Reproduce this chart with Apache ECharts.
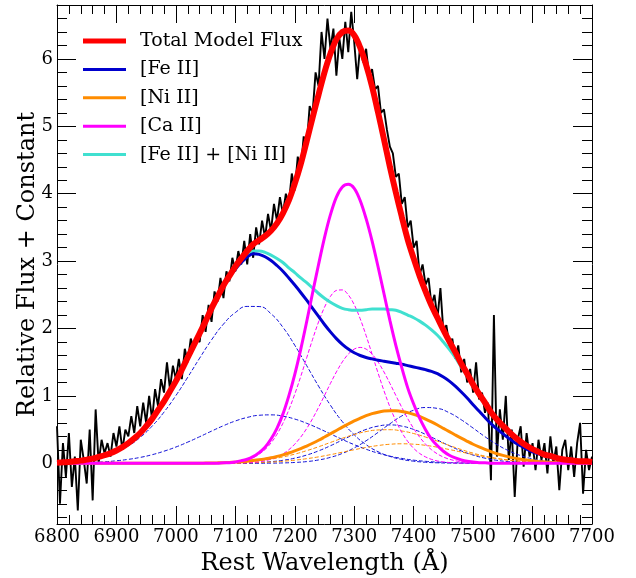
<!DOCTYPE html>
<html>
<head>
<meta charset="utf-8">
<title>Spectral model fit</title>
<script src="https://cdn.jsdelivr.net/npm/echarts/dist/echarts.min.js"></script>
<style>
  html, body { margin: 0; padding: 0; background: #fff; }
  #chart { width: 636px; height: 578px; }
</style>
</head>
<body>
<div id="chart"></div>
<script>
// fine model grid (Å), every 10 Å, 6800 .. 7700
const waveFine = [6800, 6810, 6820, 6830, 6840, 6850, 6860, 6870, 6880, 6890,
  6900, 6910, 6920, 6930, 6940, 6950, 6960, 6970, 6980, 6990,
  7000, 7010, 7020, 7030, 7040, 7050, 7060, 7070, 7080, 7090,
  7100, 7110, 7120, 7130, 7140, 7150, 7160, 7170, 7180, 7190,
  7200, 7210, 7220, 7230, 7240, 7250, 7260, 7270, 7280, 7290,
  7300, 7310, 7320, 7330, 7340, 7350, 7360, 7370, 7380, 7390,
  7400, 7410, 7420, 7430, 7440, 7450, 7460, 7470, 7480, 7490,
  7500, 7510, 7520, 7530, 7540, 7550, 7560, 7570, 7580, 7590,
  7600, 7610, 7620, 7630, 7640, 7650, 7660, 7670, 7680, 7690,
  7700]
// coarse grid (Å), every 20 Å, for the broad dashed components
const waveCoarse = [6800, 6820, 6840, 6860, 6880, 6900, 6920, 6940, 6960, 6980,
  7000, 7020, 7040, 7060, 7080, 7100, 7120, 7140, 7160, 7180,
  7200, 7220, 7240, 7260, 7280, 7300, 7320, 7340, 7360, 7380,
  7400, 7420, 7440, 7460, 7480, 7500, 7520, 7540, 7560, 7580,
  7600, 7620, 7640, 7660, 7680, 7700]

// solid model curves (fine grid)
const fluxTotal = [0.01, 0.015, 0.02, 0.03, 0.04, 0.055, 0.07, 0.095, 0.12, 0.15,
  0.19, 0.24, 0.30, 0.37, 0.45, 0.55, 0.66, 0.79, 0.92, 1.07,
  1.22, 1.39, 1.57, 1.75, 1.93, 2.11, 2.30, 2.47, 2.64, 2.78,
  2.92, 3.04, 3.15, 3.25, 3.31, 3.37, 3.45, 3.56, 3.71, 3.90,
  4.15, 4.44, 4.78, 5.13, 5.47, 5.80, 6.08, 6.29, 6.40, 6.42,
  6.35, 6.17, 5.91, 5.59, 5.21, 4.81, 4.40, 4.02, 3.66, 3.32,
  3.04, 2.78, 2.55, 2.34, 2.16, 1.98, 1.81, 1.65, 1.48, 1.33,
  1.17, 1.03, 0.90, 0.76, 0.65, 0.56, 0.47, 0.39, 0.32, 0.26,
  0.21, 0.17, 0.13, 0.11, 0.08, 0.06, 0.05, 0.04, 0.03, 0.03,
  0.02]
const fluxFe = [0.01, 0.015, 0.02, 0.03, 0.04, 0.055, 0.07, 0.095, 0.12, 0.15,
  0.19, 0.24, 0.30, 0.37, 0.45, 0.55, 0.66, 0.79, 0.92, 1.07,
  1.22, 1.39, 1.57, 1.75, 1.93, 2.11, 2.29, 2.46, 2.62, 2.76,
  2.88, 2.98, 3.06, 3.11, 3.10, 3.065, 3.01, 2.935, 2.85, 2.75,
  2.645, 2.535, 2.42, 2.30, 2.18, 2.06, 1.95, 1.85, 1.765, 1.695,
  1.64, 1.60, 1.57, 1.55, 1.53, 1.515, 1.50, 1.485, 1.47, 1.45,
  1.43, 1.41, 1.39, 1.365, 1.33, 1.28, 1.22, 1.145, 1.06, 0.97,
  0.87, 0.775, 0.68, 0.59, 0.51, 0.44, 0.37, 0.31, 0.26, 0.21,
  0.17, 0.14, 0.11, 0.09, 0.07, 0.055, 0.04, 0.035, 0.03, 0.025,
  0.02]
const fluxNi = [0, 0, 0, 0, 0, 0, 0, 0, 0, 0,
  0, 0, 0, 0, 0, 0, 0, 0, 0, 0,
  0.001, 0.001, 0.001, 0.002, 0.002, 0.004, 0.005, 0.007, 0.010, 0.014,
  0.018, 0.024, 0.032, 0.041, 0.052, 0.066, 0.082, 0.103, 0.126, 0.153,
  0.184, 0.218, 0.257, 0.298, 0.342, 0.390, 0.439, 0.488, 0.537, 0.584,
  0.630, 0.670, 0.707, 0.737, 0.759, 0.775, 0.782, 0.780, 0.770, 0.752,
  0.726, 0.695, 0.657, 0.614, 0.568, 0.519, 0.470, 0.421, 0.373, 0.327,
  0.283, 0.243, 0.206, 0.173, 0.143, 0.118, 0.096, 0.077, 0.061, 0.048,
  0.037, 0.029, 0.022, 0.016, 0.012, 0.009, 0.007, 0.005, 0.003, 0.002,
  0.002]
const fluxCa = [0, 0, 0, 0, 0, 0, 0, 0, 0, 0,
  0, 0, 0, 0, 0, 0, 0, 0, 0, 0,
  0, 0, 0, 0, 0, 0.00, 0.00, 0.00, 0.01, 0.01,
  0.02, 0.04, 0.06, 0.10, 0.16, 0.24, 0.36, 0.52, 0.73, 1.00,
  1.32, 1.69, 2.10, 2.53, 2.95, 3.35, 3.69, 3.95, 4.10, 4.14,
  4.08, 3.90, 3.63, 3.30, 2.92, 2.52, 2.12, 1.75, 1.42, 1.12,
  0.88, 0.67, 0.50, 0.36, 0.26, 0.18, 0.12, 0.08, 0.05, 0.03,
  0.02, 0.01, 0.01, 0.00, 0, 0, 0, 0, 0, 0,
  0, 0, 0, 0, 0, 0, 0, 0, 0, 0,
  0]
const fluxFeNi = [0.01, 0.015, 0.02, 0.03, 0.04, 0.055, 0.07, 0.095, 0.12, 0.15,
  0.19, 0.24, 0.30, 0.37, 0.45, 0.55, 0.66, 0.79, 0.92, 1.07,
  1.22, 1.39, 1.57, 1.75, 1.93, 2.11, 2.30, 2.47, 2.63, 2.77,
  2.90, 3.00, 3.09, 3.15, 3.15, 3.13, 3.09, 3.04, 2.98, 2.90,
  2.83, 2.75, 2.68, 2.60, 2.52, 2.45, 2.39, 2.34, 2.30, 2.28,
  2.27, 2.27, 2.28, 2.29, 2.29, 2.29, 2.28, 2.27, 2.24, 2.20,
  2.16, 2.11, 2.05, 1.98, 1.90, 1.80, 1.69, 1.57, 1.43, 1.30,
  1.15, 1.02, 0.89, 0.76, 0.65, 0.56, 0.47, 0.39, 0.32, 0.26,
  0.21, 0.17, 0.13, 0.11, 0.08, 0.06, 0.05, 0.04, 0.03, 0.03,
  0.02]

// [Ca II] components (fine grid, dashed)
const caComp1 = [0, 0, 0, 0, 0, 0, 0, 0, 0, 0,
  0, 0, 0, 0, 0, 0, 0, 0, 0, 0,
  0, 0, 0, 0, 0, 0.001, 0.002, 0.003, 0.006, 0.010,
  0.018, 0.032, 0.053, 0.086, 0.135, 0.205, 0.302, 0.430, 0.594, 0.793,
  1.027, 1.288, 1.565, 1.841, 2.098, 2.316, 2.477, 2.565, 2.573, 2.500,
  2.354, 2.146, 1.895, 1.621, 1.343, 1.078, 0.838, 0.631, 0.460, 0.325,
  0.222, 0.147, 0.095, 0.059, 0.035, 0.021, 0.012, 0.006, 0.003, 0.002,
  0.001, 0, 0, 0, 0, 0, 0, 0, 0, 0,
  0, 0, 0, 0, 0, 0, 0, 0, 0, 0,
  0]
const caComp2 = [0, 0, 0, 0, 0, 0, 0, 0, 0, 0,
  0, 0, 0, 0, 0, 0, 0, 0, 0, 0,
  0, 0, 0, 0, 0, 0, 0, 0, 0, 0.001,
  0.002, 0.005, 0.008, 0.014, 0.023, 0.038, 0.061, 0.093, 0.139, 0.202,
  0.285, 0.389, 0.516, 0.664, 0.830, 1.007, 1.186, 1.356, 1.505, 1.621,
  1.695, 1.720, 1.695, 1.621, 1.505, 1.356, 1.186, 1.007, 0.830, 0.664,
  0.516, 0.389, 0.285, 0.202, 0.139, 0.093, 0.061, 0.038, 0.023, 0.014,
  0.008, 0.005, 0.002, 0.001, 0, 0, 0, 0, 0, 0,
  0, 0, 0, 0, 0, 0, 0, 0, 0, 0,
  0]

// [Fe II] and [Ni II] components (coarse grid, dashed)
const feComp1 = [0.010, 0.019, 0.035, 0.061, 0.103, 0.166, 0.258, 0.385, 0.552, 0.760,
  1.005, 1.278, 1.561, 1.832, 2.065, 2.237, 2.328, 2.326, 2.219, 2.019,
  1.752, 1.450, 1.145, 0.862, 0.619, 0.424, 0.277, 0.173, 0.103, 0.058,
  0.032, 0.016, 0.008, 0.004, 0.002, 0.001, 0, 0, 0, 0,
  0, 0, 0, 0, 0, 0]
const feComp2 = [0.002, 0.004, 0.008, 0.014, 0.023, 0.038, 0.059, 0.088, 0.128, 0.180,
  0.242, 0.315, 0.395, 0.478, 0.558, 0.628, 0.681, 0.713, 0.719, 0.700,
  0.657, 0.594, 0.519, 0.437, 0.354, 0.277, 0.209, 0.152, 0.107, 0.073,
  0.047, 0.030, 0.018, 0.011, 0.006, 0.003, 0.002, 0.001, 0, 0,
  0, 0, 0, 0, 0, 0]
const feComp3 = [0, 0, 0, 0, 0, 0, 0, 0, 0, 0,
  0, 0, 0, 0, 0, 0, 0, 0.001, 0.003, 0.006,
  0.013, 0.026, 0.050, 0.089, 0.147, 0.230, 0.335, 0.458, 0.587, 0.703,
  0.788, 0.828, 0.815, 0.750, 0.647, 0.523, 0.395, 0.280, 0.186, 0.115,
  0.067, 0.036, 0.019, 0.009, 0.004, 0.002]
const feComp4 = [0, 0, 0, 0, 0, 0, 0, 0, 0, 0,
  0, 0, 0, 0, 0.001, 0.003, 0.006, 0.013, 0.025, 0.045,
  0.077, 0.123, 0.185, 0.261, 0.346, 0.430, 0.503, 0.552, 0.570, 0.552,
  0.503, 0.430, 0.346, 0.261, 0.185, 0.123, 0.077, 0.045, 0.025, 0.013,
  0.006, 0.003, 0.001, 0, 0, 0]
const niComp1 = [0, 0, 0, 0, 0, 0, 0, 0, 0, 0,
  0.001, 0.001, 0.002, 0.004, 0.008, 0.014, 0.025, 0.040, 0.063, 0.095,
  0.137, 0.188, 0.246, 0.310, 0.372, 0.428, 0.471, 0.495, 0.499, 0.480,
  0.442, 0.390, 0.329, 0.265, 0.205, 0.151, 0.107, 0.072, 0.047, 0.029,
  0.017, 0.010, 0.005, 0.003, 0.001, 0.001]
const niComp2 = [0, 0, 0, 0, 0, 0, 0, 0, 0, 0,
  0, 0, 0, 0.001, 0.002, 0.004, 0.007, 0.012, 0.019, 0.031,
  0.047, 0.069, 0.096, 0.129, 0.165, 0.202, 0.236, 0.264, 0.283, 0.290,
  0.284, 0.267, 0.239, 0.205, 0.168, 0.132, 0.099, 0.071, 0.049, 0.032,
  0.020, 0.012, 0.007, 0.004, 0.002, 0.001]

// observed spectrum, 5 Å steps from 6800
const specStart = 6800
const specStep = 5
const specFlux = [
  0.55, -0.60, 0.30, -0.20, 0.45, -0.35, 0.10, -0.70, 0.35, 0.05,
  -0.30, 0.50, -0.55, 0.80, 0.00, 0.35, 0.15, 0.30, 0.10, 0.45,
  0.25, 0.55, 0.20, 0.50, 0.40, 0.70, 0.45, 0.85, 0.55, 0.90,
  0.60, 1.00, 0.65, 1.10, 0.85, 1.25, 1.05, 1.50, 1.10, 1.45,
  1.25, 1.55, 1.25, 1.70, 1.50, 1.85, 1.70, 1.85, 1.80, 2.20,
  1.95, 2.35, 2.10, 2.55, 2.40, 2.75, 2.45, 2.85, 2.70, 3.05,
  2.85, 3.15, 2.95, 3.30, 2.95, 3.40, 3.05, 3.50, 3.25, 3.60,
  3.35, 3.70, 3.45, 3.85, 3.60, 3.95, 3.70, 4.00, 3.85, 4.30,
  4.05, 4.55, 4.35, 4.85, 4.70, 5.30, 5.20, 5.80, 5.60, 6.40,
  6.00, 6.60, 6.15, 6.45, 5.75, 6.30, 6.00, 6.55, 6.10, 6.70,
  6.25, 5.70, 6.20, 5.95, 6.15, 5.75, 5.85, 5.55, 5.60, 5.20,
  5.25, 4.95, 4.70, 4.60, 4.25, 4.30, 3.85, 3.95, 3.50, 3.60,
  3.20, 3.30, 2.80, 2.95, 2.65, 2.75, 2.35, 2.50, 2.15, 2.60,
  1.95, 2.05, 1.75, 1.85, 1.55, 1.75, 1.35, 1.55, 1.20, 1.40,
  1.05, 1.50, 0.95, 1.05, 0.75, 0.90, -0.25, 2.20, 0.10, 0.80,
  0.35, 1.00, 0.05, 0.50, -0.50, 0.35, 0.55, -0.05, 0.45, 0.10,
  0.30, -0.10, 0.35, 0.05, 0.30, -0.15, 0.40, 0.00, 0.25, -0.40,
  0.20, 0.35, -0.10, 0.25, -0.20, 0.30, 0.60, -0.45, 0.20, -0.10,
  0.10]

const xTicks = { min: 6800, max: 7700, step: 100 }
const yMajor = [0, 1, 2, 3, 4, 5, 6]
const yMinor = [-0.8, -0.6, -0.4, -0.2, 0.2, 0.4, 0.6, 0.8, 1.2, 1.4, 1.6, 1.8,
  2.2, 2.4, 2.6, 2.8, 3.2, 3.4, 3.6, 3.8, 4.2, 4.4, 4.6, 4.8,
  5.2, 5.4, 5.6, 5.8, 6.2, 6.4, 6.6]

const serif = 'DejaVu Serif'
const specWave = specFlux.map((v, i) => specStart + i * specStep)

function pairs (xs, ys) {
  return ys.map((y, i) => [xs[i], y])
}

// one line series, solid or dashed
function curve (name, xs, ys, color, width, z, dashed, smooth) {
  return {
    type: 'line',
    name: name,
    data: pairs(xs, ys),
    symbol: 'none',
    smooth: smooth,
    z: z,
    silent: true,
    lineStyle: { color: color, width: width, type: dashed ? [4, 2] : 'solid' },
    itemStyle: { color: color }
  }
}

const frame = { show: true, onZero: false, lineStyle: { color: '#000', width: 1 } }

function xAxisOpt (pos, labels) {
  return {
    type: 'value',
    position: pos,
    min: xTicks.min,
    max: xTicks.max,
    interval: xTicks.step,
    axisLine: frame,
    axisTick: { inside: true, length: 18, lineStyle: { color: '#000' } },
    minorTick: { show: true, splitNumber: 5, length: 9, lineStyle: { color: '#000' } },
    axisLabel: {
      show: labels,
      margin: 4,
      fontFamily: serif,
      fontSize: 18,
      color: '#000',
      formatter: v => String(v)
    },
    splitLine: { show: false },
    minorSplitLine: { show: false }
  }
}

function yAxisOpt (pos, ticks, len, labels, line) {
  return {
    type: 'value',
    position: pos,
    min: -0.9,
    max: 6.8,
    axisLine: line ? frame : { show: false },
    axisTick: { inside: true, length: len, customValues: ticks, lineStyle: { color: '#000' } },
    axisLabel: { show: labels, customValues: ticks, margin: 4, fontFamily: serif, fontSize: 18, color: '#000' },
    splitLine: { show: false }
  }
}

const xMain = xAxisOpt('bottom', true)
xMain.name = 'Rest Wavelength (Å)'
xMain.nameLocation = 'middle'
xMain.nameGap = 28
xMain.nameMoveOverlap = false
xMain.nameTextStyle = { fontFamily: serif, fontSize: 24, color: '#000' }

const yMain = yAxisOpt('left', yMajor, 19, true, true)
yMain.name = 'Relative Flux + Constant'
yMain.nameLocation = 'middle'
yMain.nameGap = 17
yMain.nameMoveOverlap = false
yMain.nameTextStyle = { fontFamily: serif, fontSize: 24, color: '#000' }

// legend keys: thick bar for the total, thinner bars for the rest
const thickKey = 'path://M0,0H86V10H0Z'
const thinKey = 'path://M0,0H43V3H0Z'
const smoothing = 0.35

const chart = echarts.init(document.getElementById('chart'), null, { renderer: 'canvas' })

chart.setOption({
  backgroundColor: '#fff',
  animation: false,
  textStyle: { fontFamily: serif },
  grid: { left: 57, right: 44, top: 5, bottom: 54, outerBoundsMode: 'none' },
  xAxis: [xMain, xAxisOpt('top', false)],
  yAxis: [
    yMain,
    yAxisOpt('right', yMajor, 19, false, true),
    yAxisOpt('left', yMinor, 10, false, false),
    yAxisOpt('right', yMinor, 10, false, false)
  ],
  legend: {
    orient: 'vertical',
    left: 83,
    top: 30,
    padding: 0,
    itemWidth: 43,
    itemHeight: 14,
    itemGap: 6.4,
    selectedMode: false,
    data: [
      { name: 'Total Model Flux', icon: thickKey },
      { name: '[Fe II]', icon: thinKey },
      { name: '[Ni II]', icon: thinKey },
      { name: '[Ca II]', icon: thinKey },
      { name: '[Fe II] + [Ni II]', icon: thinKey }
    ],
    textStyle: { fontFamily: serif, fontSize: 19, color: '#000', lineHeight: 22, padding: [0, 0, 0, 9] }
  },
  series: [
    curve('spectrum', specWave, specFlux, '#000000', 1.9, 1, false, false),
    curve('fe1', waveCoarse, feComp1, '#1010d8', 1, 2, true, true),
    curve('fe2', waveCoarse, feComp2, '#1010d8', 1, 2, true, true),
    curve('fe3', waveCoarse, feComp3, '#1010d8', 1, 2, true, true),
    curve('fe4', waveCoarse, feComp4, '#1010d8', 1, 2, true, true),
    curve('ni1', waveCoarse, niComp1, '#ff8c00', 1, 2, true, true),
    curve('ni2', waveCoarse, niComp2, '#ff8c00', 1, 2, true, true),
    curve('ca1', waveFine, caComp1, '#ff00ff', 1, 2, true, smoothing),
    curve('ca2', waveFine, caComp2, '#ff00ff', 1, 2, true, smoothing),
    curve('[Fe II] + [Ni II]', waveFine, fluxFeNi, '#40e0d0', 3, 3, false, smoothing),
    curve('[Ni II]', waveFine, fluxNi, '#ff8c00', 3, 4, false, smoothing),
    curve('[Fe II]', waveFine, fluxFe, '#0000cd', 3, 5, false, smoothing),
    curve('[Ca II]', waveFine, fluxCa, '#ff00ff', 3, 6, false, smoothing),
    curve('Total Model Flux', waveFine, fluxTotal, '#ff0000', 6, 7, false, smoothing)
  ]
})
</script>
</body>
</html>
